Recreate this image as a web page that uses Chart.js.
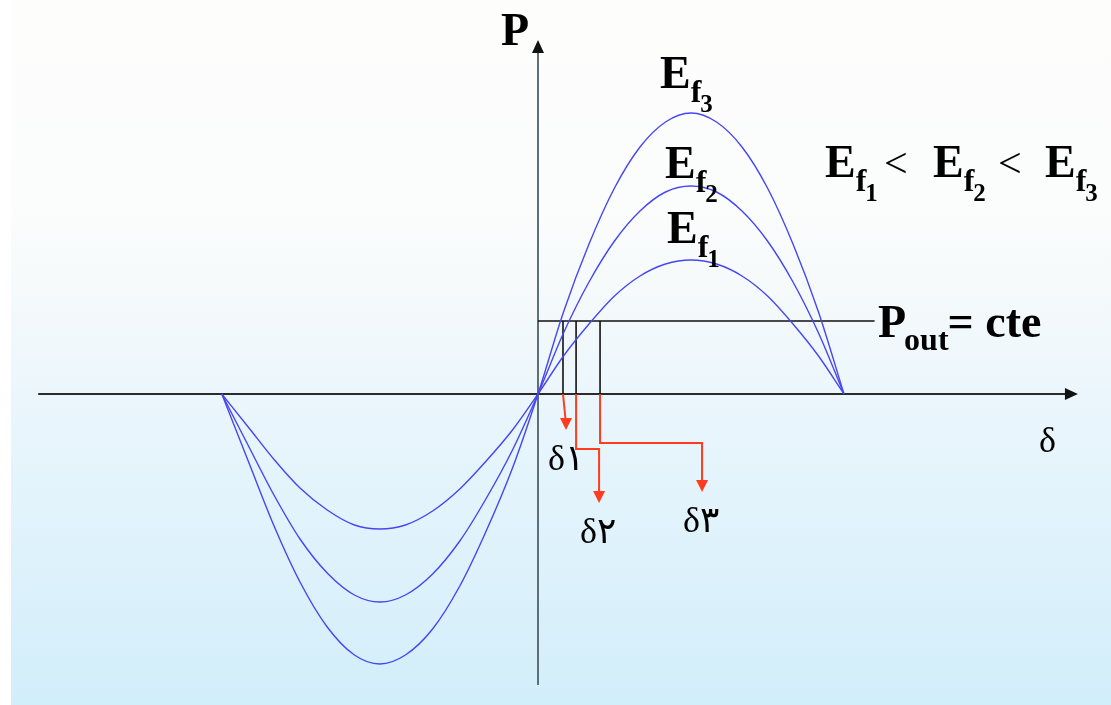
<!DOCTYPE html>
<html>
<head>
<meta charset="utf-8">
<script src="https://cdn.jsdelivr.net/npm/chart.js@4/dist/chart.umd.min.js"></script>
<style>
  html, body { margin: 0; padding: 0; background: #ffffff; }
  #wrap { width: 1111px; height: 705px; }
</style>
</head>
<body>
<div id="wrap"><canvas id="powerAngle" width="1111" height="705"></canvas></div>
<script>
// load angle (deg) and electrical power for three field excitations
const delta = [-186, -170, -155, -140, -124, -108, -93, -78, -62, -46, -31, -15, 0,
               15, 30, 45, 60, 75, 90, 105, 120, 135, 150, 165, 180];
const pEf1 = [0, -0.34, -0.66, -0.94, -1.16, -1.31, -1.35, -1.31, -1.17, -0.95, -0.68, -0.36, 0,
              0.38, 0.70, 0.98, 1.18, 1.30, 1.34, 1.30, 1.18, 0.98, 0.70, 0.38, 0];
const pEf2 = [0, -0.53, -1.02, -1.45, -1.79, -2.01, -2.08, -2.01, -1.80, -1.47, -1.06, -0.56, 0,
              0.61, 1.12, 1.53, 1.83, 2.02, 2.08, 2.02, 1.83, 1.53, 1.12, 0.61, 0];
const pEf3 = [0, -0.69, -1.33, -1.88, -2.33, -2.61, -2.70, -2.61, -2.35, -1.92, -1.39, -0.74, 0,
              0.82, 1.50, 2.06, 2.47, 2.72, 2.81, 2.72, 2.47, 2.06, 1.50, 0.82, 0];

// constant output power and the operating angles it gives
const pOut = 0.73;
const pOutEnd = 198;
const deltaOp = [14.7, 22.4, 36.5];
const deltaOpLabels = ['δ١', 'δ٢', 'δ٣'];

// axis extents
const xAxisFrom = -294, xAxisTo = 317.6;
const yAxisFrom = -2.91, yAxisTo = 3.54;

const toPoints = (xs, ys) => xs.map((x, i) => ({ x: x, y: ys[i] }));

const curveStyle = {
  borderColor: 'rgb(70, 70, 245)',
  borderWidth: 1.4,
  pointRadius: 0,
  fill: false,
  cubicInterpolationMode: 'monotone'
};

const datasets = [
  Object.assign({ label: 'Ef1', data: toPoints(delta, pEf1) }, curveStyle),
  Object.assign({ label: 'Ef2', data: toPoints(delta, pEf2) }, curveStyle),
  Object.assign({ label: 'Ef3', data: toPoints(delta, pEf3) }, curveStyle),
  {
    label: 'Pout',
    data: [{ x: 0, y: pOut }, { x: pOutEnd, y: pOut }],
    borderColor: '#111',
    borderWidth: 1.6,
    pointRadius: 0
  }
];
deltaOp.forEach((d, i) => {
  datasets.push({
    label: 'drop' + i,
    data: [{ x: d, y: 0 }, { x: d, y: pOut }],
    borderColor: '#111',
    borderWidth: 1.6,
    pointRadius: 0
  });
});

// background wash
const backdrop = {
  id: 'backdrop',
  beforeDraw(chart) {
    const ctx = chart.ctx;
    const g = ctx.createLinearGradient(0, 0, 0, chart.height);
    g.addColorStop(0, '#fdfdfc');
    g.addColorStop(0.3, '#fbfcfc');
    g.addColorStop(0.45, '#f3f9fb');
    g.addColorStop(0.56, '#ebf6fc');
    g.addColorStop(1, '#d2eefa');
    ctx.save();
    ctx.fillStyle = '#ffffff';
    ctx.fillRect(0, 0, chart.width, chart.height);
    ctx.fillStyle = g;
    ctx.fillRect(11, 0, chart.width - 11, chart.height);
    ctx.restore();
  }
};

function triangle(ctx, tipX, tipY, dir, len, half) {
  ctx.beginPath();
  if (dir === 'right') {
    ctx.moveTo(tipX, tipY);
    ctx.lineTo(tipX - len, tipY - half);
    ctx.lineTo(tipX - len, tipY + half);
  } else if (dir === 'up') {
    ctx.moveTo(tipX, tipY);
    ctx.lineTo(tipX - half, tipY + len);
    ctx.lineTo(tipX + half, tipY + len);
  } else {
    ctx.moveTo(tipX, tipY);
    ctx.lineTo(tipX - half, tipY - len);
    ctx.lineTo(tipX + half, tipY - len);
  }
  ctx.closePath();
  ctx.fill();
}

// the two axes with arrow heads
const axesArrows = {
  id: 'axesArrows',
  beforeDatasetsDraw(chart) {
    const ctx = chart.ctx;
    const xs = chart.scales.x, ys = chart.scales.y;
    const x0 = xs.getPixelForValue(0), y0 = ys.getPixelForValue(0);
    const xEnd = xs.getPixelForValue(xAxisTo), yTop = ys.getPixelForValue(yAxisTo);
    ctx.save();
    ctx.strokeStyle = '#2a2a2a';
    ctx.fillStyle = '#111';
    ctx.lineWidth = 2.2;
    ctx.beginPath();
    ctx.moveTo(xs.getPixelForValue(xAxisFrom), y0);
    ctx.lineTo(xEnd - 10, y0);
    ctx.stroke();
    triangle(ctx, xEnd, y0, 'right', 13, 6);
    ctx.strokeStyle = '#5f6f78';
    ctx.lineWidth = 2;
    ctx.beginPath();
    ctx.moveTo(x0, ys.getPixelForValue(yAxisFrom));
    ctx.lineTo(x0, yTop + 10);
    ctx.stroke();
    triangle(ctx, x0, yTop, 'up', 13, 6);
    ctx.restore();
  }
};

function drawEf(ctx, x, base, n) {
  ctx.font = 'bold 46px "Liberation Serif", "Times New Roman", serif';
  ctx.fillText('E', x, base);
  const w = ctx.measureText('E').width;
  ctx.font = 'bold 32px "Liberation Serif", "Times New Roman", serif';
  ctx.fillText('f', x + w, base + 14);
  const wf = ctx.measureText('f').width;
  ctx.font = 'bold 25px "Liberation Serif", "Times New Roman", serif';
  ctx.fillText(String(n), x + w + wf - 1, base + 24);
}

// labels and the red arrows running to the operating angles
const annotations = {
  id: 'annotations',
  afterDatasetsDraw(chart) {
    const ctx = chart.ctx;
    const xs = chart.scales.x, ys = chart.scales.y;
    const y0 = ys.getPixelForValue(0);
    ctx.save();
    ctx.textBaseline = 'alphabetic';
    ctx.fillStyle = '#000';

    // axis names
    ctx.font = 'bold 46px "Liberation Serif", "Times New Roman", serif';
    ctx.fillText('P', 501, 45);
    ctx.font = '36px "Liberation Serif", "DejaVu Serif", serif';
    ctx.fillText('δ', 1039, 452);

    // curve names
    drawEf(ctx, 660, 88, 3);
    drawEf(ctx, 665, 178, 2);
    drawEf(ctx, 667, 243, 1);

    // ordering of the excitations
    drawEf(ctx, 825, 177, 1);
    drawEf(ctx, 933, 177, 2);
    drawEf(ctx, 1045, 177, 3);
    ctx.font = '42px "Liberation Serif", "Times New Roman", serif';
    ctx.fillText('<', 884, 177);
    ctx.fillText('<', 998, 177);

    // output power label
    const py = ys.getPixelForValue(pOut);
    ctx.font = 'bold 46px "Liberation Serif", "Times New Roman", serif';
    ctx.fillText('P', 878, py + 16);
    const wp = ctx.measureText('P').width;
    ctx.font = 'bold 32px "Liberation Serif", "Times New Roman", serif';
    ctx.fillText('out', 878 + wp - 2, py + 29);
    const wo = ctx.measureText('out').width;
    ctx.font = 'bold 46px "Liberation Serif", "Times New Roman", serif';
    ctx.fillText('= cte', 878 + wp + wo - 3, py + 16);

    // red arrows
    const red = '#ff3c1e';
    ctx.strokeStyle = red;
    ctx.fillStyle = red;
    ctx.lineWidth = 2;
    const px = deltaOp.map(d => xs.getPixelForValue(d));
    const paths = [
      [[px[0], y0], [px[0] + 2.5, y0 + 25]],
      [[px[1], y0], [px[1], y0 + 55], [px[1] + 23, y0 + 55], [px[1] + 23, y0 + 99]],
      [[px[2], y0], [px[2], y0 + 49], [px[2] + 102, y0 + 49], [px[2] + 102, y0 + 86]]
    ];
    const tips = [[px[0] + 3, y0 + 36], [px[1] + 23, y0 + 109], [px[2] + 102, y0 + 98]];
    paths.forEach((p, i) => {
      ctx.beginPath();
      ctx.moveTo(p[0][0], p[0][1]);
      for (let k = 1; k < p.length; k++) ctx.lineTo(p[k][0], p[k][1]);
      ctx.stroke();
      triangle(ctx, tips[i][0], tips[i][1], 'down', 12, 6);
    });

    // operating angle labels
    ctx.fillStyle = '#000';
    ctx.font = '36px "Liberation Serif", "DejaVu Sans", serif';
    const labelPos = [[548, 470], [580, 543], [683, 532]];
    deltaOpLabels.forEach((t, i) => ctx.fillText(t, labelPos[i][0], labelPos[i][1]));
    ctx.restore();
  }
};

new Chart(document.getElementById('powerAngle').getContext('2d'), {
  type: 'line',
  data: { datasets: datasets },
  options: {
    responsive: false,
    animation: false,
    events: [],
    layout: { padding: 0 },
    plugins: { legend: { display: false }, tooltip: { enabled: false } },
    scales: {
      x: { type: 'linear', display: false, min: -538 / 1.7, max: 573 / 1.7 },
      y: { type: 'linear', display: false, min: -3.11, max: 3.94 }
    }
  },
  plugins: [backdrop, axesArrows, annotations]
});
</script>
</body>
</html>
